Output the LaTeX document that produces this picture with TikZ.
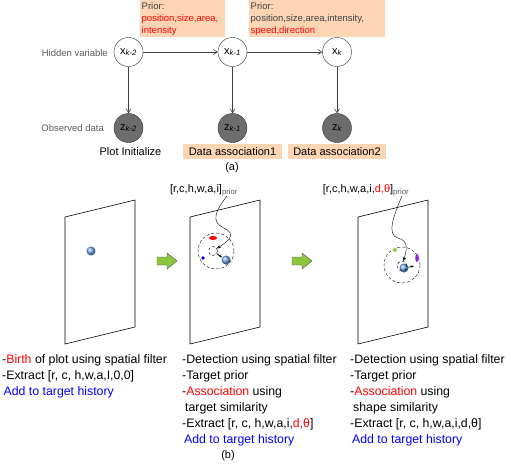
\documentclass[tikz,border=0pt]{standalone}
\usepackage{fontspec}
\setmainfont{Liberation Sans}
\usetikzlibrary{arrows.meta}
\definecolor{peach}{HTML}{FCD5B4}
\definecolor{obsgray}{HTML}{6D6D6D}
\definecolor{ballblue}{HTML}{6FAAE8}
\definecolor{arrowgreen}{HTML}{8CC63F}
\definecolor{labelgray}{HTML}{595959}
\definecolor{dotgreen}{HTML}{92D050}
\definecolor{dotviolet}{HTML}{8A2BE2}
\newcommand{\subk}[1]{\textsubscript{\itshape #1}}
\begin{document}
\begin{tikzpicture}[x=1pt, y=-1pt,
    var/.style={circle, draw=black!80, fill=white, minimum size=29pt, inner sep=0pt, font=\fontsize{11}{11}\selectfont},
    obs/.style={var, fill=obsgray},
    link/.style={draw=black!75, semithick, -{Straight Barb[length=4pt,width=5pt]}},
    rowlabel/.style={text=labelgray, font=\fontsize{9.5}{9.5}\selectfont, anchor=east, inner sep=0pt},
    priorbox/.style={fill=peach, anchor=north west, align=left, inner sep=1.5pt, minimum height=37pt, font=\fontsize{9.5}{12}\selectfont, text=black!75},
    stepbox/.style={fill=peach, inner sep=1.5pt, minimum height=15pt, font=\fontsize{11}{11}\selectfont},
    caption/.style={font=\fontsize{11}{11}\selectfont, inner sep=0pt},
    notes/.style={anchor=north west, align=left, inner sep=0pt, font=\fontsize{12.3}{16}\selectfont},
    frame/.style={draw, semithick},
    ball/.style={shading=ball, ball color=ballblue},
    nextarrow/.style={draw=black!70, fill=arrowgreen, thin},
    wiggle/.style={draw, -{Stealth[length=4pt,width=3.5pt]}},
    near/.style={circle, draw, densely dashed, inner sep=0pt},
  ]
    \def\pw{70}
    \def\ph{127}
    \def\tilt{17}

    \useasboundingbox (0,0) rectangle (511,464);

    \node[priorbox, text width=82pt] (prior1) at (140,0) {Prior:\\\textcolor{red}{position,size,area,}\\\textcolor{red}{intensity}};
    \node[priorbox, text width=133pt] (prior2) at (249,0) {Prior:\\position,size,area,intensity,\\\textcolor{red}{speed,direction}};

    \node[rowlabel] (hid) at (108,53) {Hidden variable};
    \node[rowlabel] (seen) at (104,128) {Observed data};

    \node[var] (x2) at (128.5,52) {x\subk{k-2}};
    \node[var] (x1) at (232.5,52) {x\subk{k-1}};
    \node[var] (x0) at (337,52) {x\subk{k}};
    \node[obs] (z2) at (128.5,128) {z\subk{k-2}};
    \node[obs] (z1) at (232.5,128) {z\subk{k-1}};
    \node[obs] (z0) at (337,128) {z\subk{k}};

    \draw[link] (x2) -- (x1);
    \draw[link] (x1) -- (x0);
    \foreach \n in {0,1,2}
        \draw[link] (x\n) -- (z\n);

    \node[caption] (init) at (130.5,152) {Plot Initialize};
    \node[stepbox, minimum width=99pt] (da1) at (232.5,151.5) {Data association1};
    \node[stepbox, minimum width=98pt] (da2) at (337,151.5) {Data association2};
    \node[caption] (capa) at (232,168) {(a)};

    \foreach \px in {65,190,358}
        \draw[frame] (\px,217) -- ++(\pw,-\tilt) -- ++(0,\ph) -- ++(-\pw,\tilt) -- cycle;

    \foreach \ax in {157,292}
        \filldraw[nextarrow] (\ax,257) -- ++(10,0) -- ++(0,-4) -- ++(10,8) -- ++(-10,8) -- ++(0,-4) -- ++(-10,0) -- cycle;

    \shade[ball] (91,251) circle (4.5);

    \draw[dash pattern=on 3pt off 2pt] (216,251) circle (18);
    \fill[red] (213,238) ellipse (4 and 2);
    \fill[blue] (203,258) circle (1.8);
    \node[circle, ball, minimum size=9pt, inner sep=0pt] (b2) at (226,260) {};
    \node[near, minimum size=9pt] (c2) at (213,251) {};
    \draw[thick, -{Stealth[length=3pt]}] (c2) -- (b2);
    \node[caption] (lab2) at (204,190) {[r,c,h,w,a,i]\textsubscript{\textcolor{labelgray}{prior}}};
    \draw[wiggle] ([xshift=23pt]lab2.south) .. controls (216,210) and (210,222) .. (224,228) .. controls (236,234) and (230,240) .. (c2);

    \draw[dash pattern=on 3pt off 2pt] (402,265) circle (18);
    \fill[dotgreen] (395,250) circle (2);
    \fill[dotviolet] (417,258) ellipse (1.8 and 4);
    \node[circle, ball, minimum size=9pt, inner sep=0pt] (b3) at (404,268) {};
    \node[near, minimum size=10pt] (c3) at (402,266) {};
    \coordinate (h3) at (414,266);
    \draw[thick, -{Stealth[length=3pt]}] (b3) -- (h3);
    \node[caption] (lab3) at (366,190) {[r,c,h,w,a,i,\textcolor{red}{d,θ}]\textsubscript{\textcolor{labelgray}{prior}}};
    \draw[wiggle] ([xshift=36pt]lab3.south) .. controls (394,215) and (386,235) .. (398,238) .. controls (410,241) and (406,252) .. (c3);

    \node[notes] (birth) at (2,354.5) {-\textcolor{red}{Birth} of plot using spatial filter\\-Extract [r, c, h,w,a,I,0,0]\\\hspace*{1.5pt}\textcolor{blue}{Add to target history}};
    \node[notes] (detect) at (182,354.5) {-Detection using spatial filter\\-Target prior\\-\textcolor{red}{Association} using\\\hspace*{3pt}target similarity\\-Extract [r, c, h,w,a,i,\textcolor{red}{d,θ}]\\\hspace*{2pt}\textcolor{blue}{Add to target history}};
    \node[notes] (shape) at (350,354.5) {-Detection using spatial filter\\-Target prior\\-\textcolor{red}{Association} using\\\hspace*{3pt}shape similarity\\-Extract [r, c, h,w,a,i,d,θ]\\\hspace*{2pt}\textcolor{blue}{Add to target history}};
    \node[caption] (capb) at (228,456) {(b)};
\end{tikzpicture}
\end{document}
